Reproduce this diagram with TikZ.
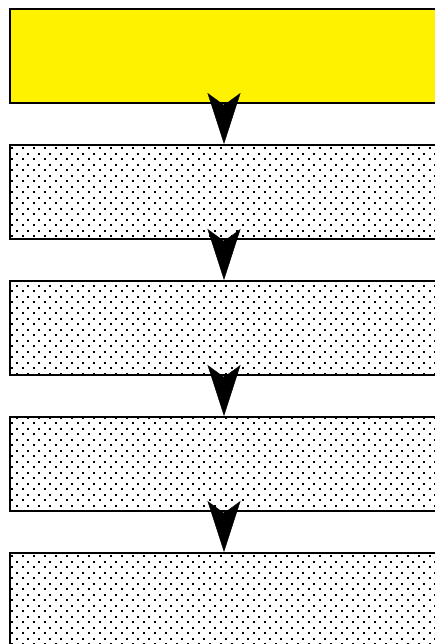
\documentclass[tikz,border=0pt]{standalone}
\usetikzlibrary{positioning, arrows.meta, patterns}

\pgfdeclarepatternformonly{grain}{\pgfpointorigin}{\pgfqpoint{11pt}{11pt}}{\pgfqpoint{11pt}{11pt}}{
    \pgfpathrectangle{\pgfqpoint{0pt}{0pt}}{\pgfqpoint{2pt}{2pt}}
    \pgfpathrectangle{\pgfqpoint{5.5pt}{5.5pt}}{\pgfqpoint{2pt}{2pt}}
    \pgfusepath{fill}
}

\begin{document}
\begin{tikzpicture}[x=1pt, y=1pt, node distance=40pt,
    stage/.style={draw, line width=2pt, minimum width=428pt, minimum height=94pt, inner sep=0pt},
    dotbox/.style={stage, pattern=grain},
    flow/.style={-{Stealth[length=51pt, width=33pt, inset=12pt]}}]
    \useasboundingbox (0,0) rectangle (435,-644);

    \node[stage, fill=yellow] (head) at (224,-56) {};
    \node[dotbox, below=of head] (stage_1) {};
    \node[dotbox, below=of stage_1] (stage_2) {};
    \node[dotbox, below=of stage_2] (stage_3) {};
    \node[dotbox, below=of stage_3] (stage_4) {};

    \draw[flow] (head) -- (stage_1);
    \draw[flow] (stage_1) -- (stage_2);
    \draw[flow] (stage_2) -- (stage_3);
    \draw[flow] (stage_3) -- (stage_4);
\end{tikzpicture}
\end{document}
